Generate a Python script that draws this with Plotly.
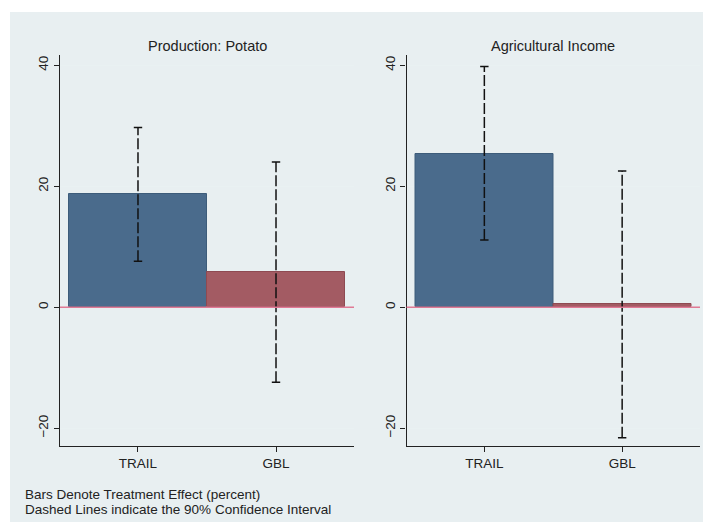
import plotly.graph_objects as go

categories = ["TRAIL", "GBL"]
panel_titles = ["Production: Potato", "Agricultural Income"]
effects_potato = [18.8, 5.8]
ci_low_potato = [7.6, -12.4]
ci_high_potato = [29.7, 24.0]
effects_income = [25.4, 0.6]
ci_low_income = [11.1, -21.6]
ci_high_income = [39.8, 22.5]
ytick_vals = [-20, 0, 20, 40]
note_lines = ["Bars Denote Treatment Effect (percent)",
              "Dashed Lines indicate the 90% Confidence Interval"]

OFF = 8  # page body margin
W, H = 711 - OFF, 524 - OFF
BG = "#e8eff1"
BLUE = "#4a6b8c"
RED = "#a35b63"
FONT = "Liberation Sans, Arial, sans-serif"


def px_x(v):
    return (v - OFF) / W


def px_y(v):
    return 1 - (v - OFF) / H


fig = go.Figure()

# background panel
fig.add_shape(type="rect", xref="paper", yref="paper",
              x0=px_x(10), x1=px_x(710), y0=px_y(522), y1=px_y(12),
              fillcolor=BG, line=dict(width=0), layer="below")

panels = [
    (effects_potato, ci_low_potato, ci_high_potato, "x", "y"),
    (effects_income, ci_low_income, ci_high_income, "x2", "y2"),
]
xpos = [0, 1]
for eff, lo, hi, xa, ya in panels:
    fig.add_trace(go.Bar(
        x=xpos, y=eff, width=1.0, xaxis=xa, yaxis=ya,
        marker=dict(color=[BLUE, RED],
                    line=dict(color=["#3d5c7a", "#8e4a52"], width=1)),
        showlegend=False, hoverinfo="skip"))
    for i, c in enumerate(xpos):
        fig.add_trace(go.Scatter(
            x=[c, c], y=[lo[i], hi[i]], xaxis=xa, yaxis=ya,
            mode="lines+markers",
            line=dict(color="#111111", width=1.5, dash="11px,3px"),
            marker=dict(symbol="line-ew-open", size=6,
                        line=dict(color="#111111", width=1.5)),
            showlegend=False, hoverinfo="skip"))
    # zero reference line
    fig.add_shape(type="line", xref=f"{xa} domain", yref=ya,
                  x0=0.0, x1=1.0, y0=0, y1=0,
                  line=dict(color="#e07a95", width=1.6), layer="above")

xdoms = [[px_x(60), px_x(354)], [px_x(406.5), px_x(700)]]
ydom = [px_y(445.7), px_y(55)]
axis_common = dict(
    showline=True, linecolor="#222222", linewidth=1.3,
    ticks="outside", ticklen=5, tickcolor="#222222", tickwidth=1.3,
    tickfont=dict(family=FONT, size=13.5, color="#222222"),
    zeroline=False,
)
for k, xa in enumerate(["xaxis", "xaxis2"]):
    fig.layout[xa] = dict(
        domain=xdoms[k], range=[-0.565, 1.565],
        tickvals=xpos, ticktext=categories, showgrid=False,
        anchor="y" if k == 0 else "y2", **axis_common)
for k, ya in enumerate(["yaxis", "yaxis2"]):
    fig.layout[ya] = dict(
        domain=ydom, range=[-22.9, 41.7], tickvals=ytick_vals,
        tickangle=-90, showgrid=True, gridcolor="#e9f1f2", gridwidth=1,
        anchor="x" if k == 0 else "x2", **axis_common)

for k, t in enumerate(panel_titles):
    fig.add_annotation(text=t, xref="paper", yref="paper",
                       x=sum(xdoms[k]) / 2, y=px_y(46),
                       showarrow=False, xanchor="center", yanchor="middle",
                       font=dict(family=FONT, size=14.5, color="#222222"))

for j, line in enumerate(note_lines):
    fig.add_annotation(text=line, xref="paper", yref="paper",
                       x=px_x(24), y=px_y(494 + 15.5 * j), xanchor="left",
                       yanchor="middle", align="left", showarrow=False,
                       borderpad=0,
                       font=dict(family=FONT, size=13.5, color="#222222"))

fig.update_layout(width=W, height=H, margin=dict(l=0, r=0, t=0, b=0),
                  paper_bgcolor="white", plot_bgcolor="white",
                  bargap=0, barmode="overlay")

fig.write_html("out.html")
